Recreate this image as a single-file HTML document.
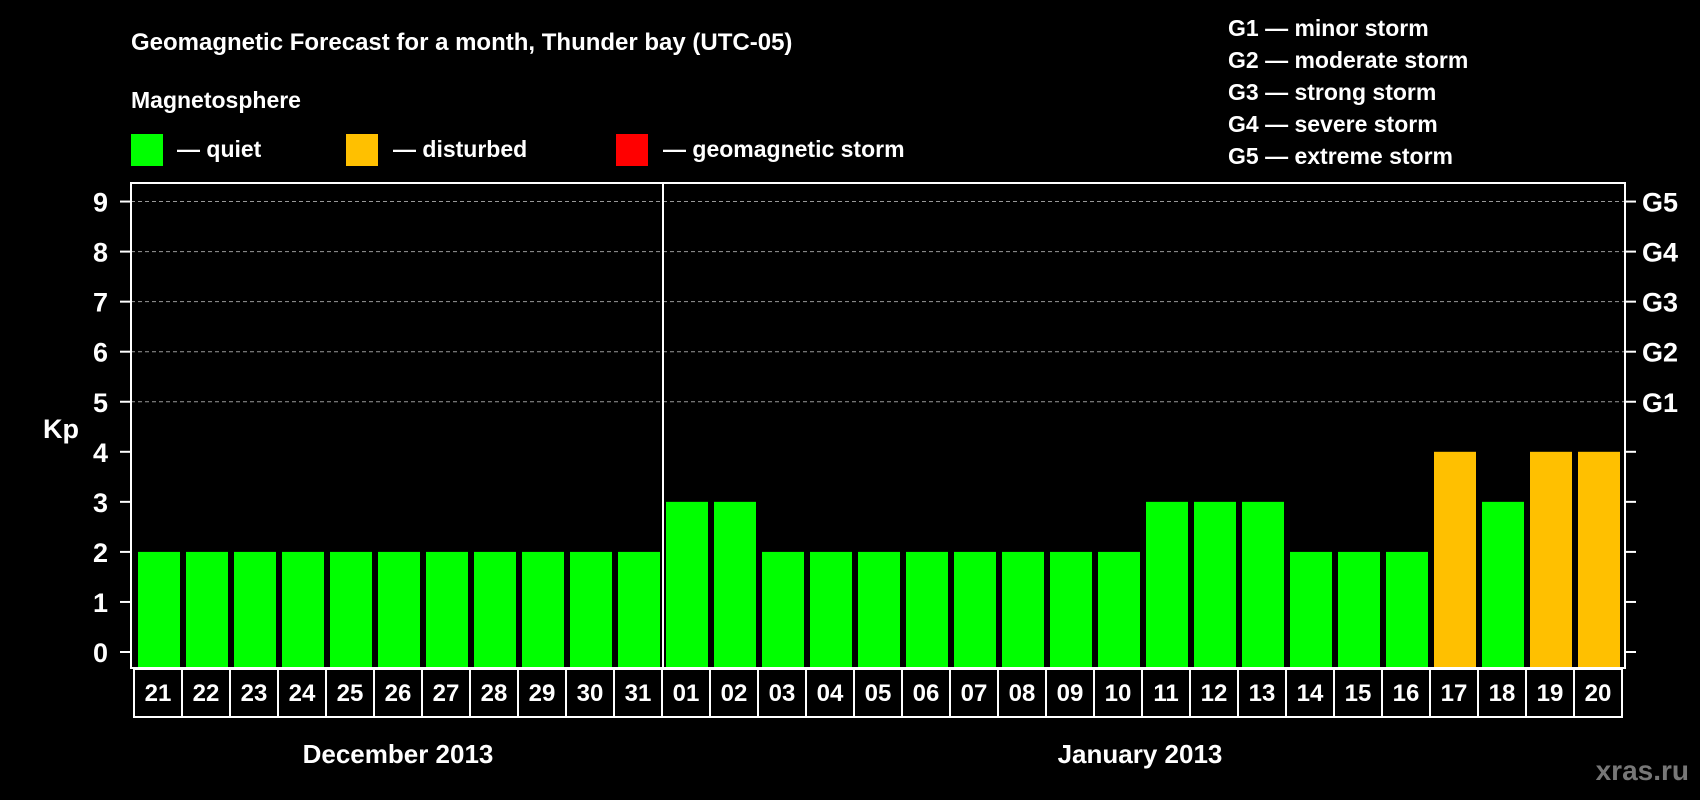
<!DOCTYPE html>
<html><head><meta charset="utf-8">
<style>
html,body{margin:0;padding:0;background:#000;}
svg{display:block;font-family:"Liberation Sans",Arial,sans-serif;font-weight:bold;}
</style></head>
<body>
<svg id="chart" width="1700" height="800" viewBox="0 0 1700 800" xmlns="http://www.w3.org/2000/svg">
<rect width="1700" height="800" fill="#000"/>
<text x="131" y="50" fill="#fff" font-size="24">Geomagnetic Forecast for a month, Thunder bay (UTC-05)</text>
<text x="131" y="108" fill="#fff" font-size="23">Magnetosphere</text>
<g>
<rect x="131" y="134" width="32" height="32" fill="#00ff00"/>
<text x="177" y="157" fill="#fff" font-size="23">— quiet</text></g>
<g>
<rect x="346" y="134" width="32" height="32" fill="#ffc000"/>
<text x="393" y="157" fill="#fff" font-size="23">— disturbed</text></g>
<g>
<rect x="616" y="134" width="32" height="32" fill="#ff0000"/>
<text x="663" y="157" fill="#fff" font-size="23">— geomagnetic storm</text></g>
<g fill="#fff" font-size="23">
<text x="1228" y="36">G1 — minor storm</text>
<text x="1228" y="68">G2 — moderate storm</text>
<text x="1228" y="100">G3 — strong storm</text>
<text x="1228" y="132">G4 — severe storm</text>
<text x="1228" y="164">G5 — extreme storm</text>
</g>
<text x="43" y="438" fill="#fff" font-size="27">Kp</text>
<text x="398" y="763" fill="#fff" font-size="26" text-anchor="middle">December 2013</text>
<text x="1140" y="763" fill="#fff" font-size="26" text-anchor="middle">January 2013</text>
<text x="1689" y="780" fill="#777" font-size="28" text-anchor="end">xras.ru</text>
<g id="plot"></g>
</svg>
<script>
const days = ["21","22","23","24","25","26","27","28","29","30","31","01","02","03","04","05","06","07","08","09","10","11","12","13","14","15","16","17","18","19","20"];
const kpValues = [2,2,2,2,2,2,2,2,2,2,2,3,3,2,2,2,2,2,2,2,2,3,3,3,2,2,2,4,3,4,4];
const yTicks = [0,1,2,3,4,5,6,7,8,9];
const gLabels = ["G1","G2","G3","G4","G5"];
const gLevels = [5,6,7,8,9];

const NS="http://www.w3.org/2000/svg";
const g=document.getElementById('plot');
const L=131,R=1625,T=183,B=668,Y0=652,UNIT=50.05;
const yS=v=>Y0-v*UNIT;
const slot=48,barW=42,x0=138;
const xS=i=>x0+i*slot;
function mk(tag,attrs){const e=document.createElementNS(NS,tag);for(const k in attrs)e.setAttribute(k,attrs[k]);g.appendChild(e);return e;}

gLevels.forEach(v=>{
  const l=mk('line',{x1:L,x2:R,y1:yS(v),y2:yS(v),stroke:'#999','stroke-width':1,'stroke-dasharray':'4,3'});
  
  
});
kpValues.forEach((v,i)=>{
  const c=v>=5?'#ff0000':(v>=4?'#ffc000':'#00ff00');
  const r=mk('rect',{x:xS(i),y:yS(v),width:barW,height:B-1-yS(v),fill:c});
  
  
});
const fr=mk('rect',{x:L,y:T,width:R-L,height:B-T,fill:'none',stroke:'#fff','stroke-width':2});


const split=xS(11)-3;
const dv=mk('line',{x1:split,x2:split,y1:T,y2:B,stroke:'#fff','stroke-width':2});


yTicks.forEach(v=>{
  const t=mk('line',{x1:L-11,x2:L,y1:yS(v),y2:yS(v),stroke:'#fff','stroke-width':2});
  
  
  const tx=mk('text',{x:108,y:yS(v)+10,fill:'#fff','font-size':27,'text-anchor':'end'});
  tx.textContent=v;
  
  
  const t2=mk('line',{x1:R,x2:R+11,y1:yS(v),y2:yS(v),stroke:'#fff','stroke-width':2});
  
  
});
gLevels.forEach((v,i)=>{
  const tx=mk('text',{x:1642,y:yS(v)+10,fill:'#fff','font-size':27});
  tx.textContent=gLabels[i];
  
  
});
days.forEach((d,i)=>{
  const bx=134+i*slot;
  const c=mk('rect',{x:bx,y:B+1,width:slot,height:48,fill:'none',stroke:'#fff','stroke-width':2});
  
  
  const tx=mk('text',{x:bx+slot/2,y:B+33,fill:'#fff','font-size':24,'text-anchor':'middle'});
  tx.textContent=d;
  
  
});
</script>
</body></html>
